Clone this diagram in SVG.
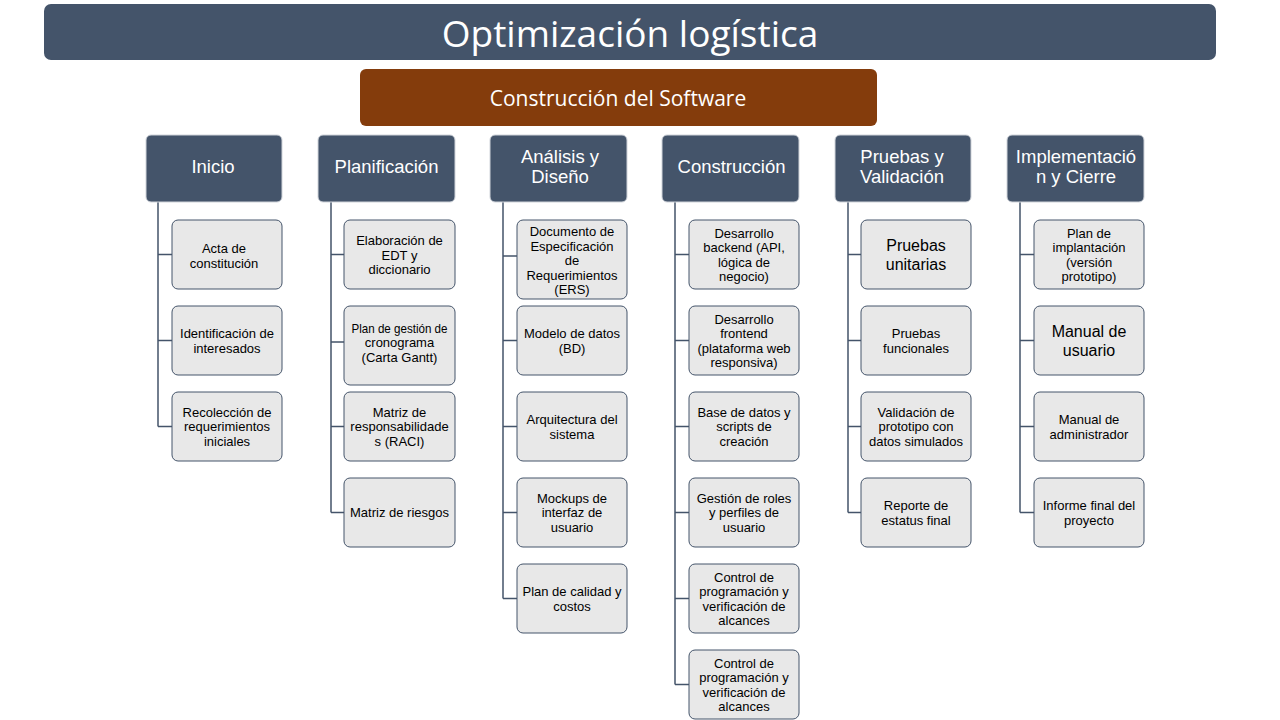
<svg xmlns="http://www.w3.org/2000/svg" width="1280" height="720" viewBox="0 0 1280 720">
<style>
.hdr{fill:#44546A;stroke:#D0D4DA;stroke-width:1}
.leaf{fill:#E8E8E8;stroke:#44546A;stroke-width:1}
.ht{font-family:"Liberation Sans",Arial,sans-serif;font-size:18.5px;fill:#FFFFFF;text-anchor:middle}
.lt{font-family:"Liberation Sans",Arial,sans-serif;font-size:13px;fill:#000000;text-anchor:middle}
.lb{font-family:"Liberation Sans",Arial,sans-serif;font-size:16px;fill:#000000;text-anchor:middle}
.con{fill:none;stroke:#44546A;stroke-width:1.5}
</style>
<rect width="1280" height="720" fill="#FFFFFF"/>
<g id="title">
<rect x="44" y="4" width="1172" height="56" rx="7" fill="#44546A"/>
<text x="630" y="47" font-family="'Open Sans','Noto Sans',sans-serif" font-size="37" fill="#FFFFFF" text-anchor="middle">Optimización logística</text>
</g>
<g id="root">
<rect x="360" y="69" width="517" height="57" rx="6" fill="#843C0C"/>
<text x="618" y="106" font-family="'Open Sans','Noto Sans',sans-serif" font-size="21" fill="#FFFFFF" text-anchor="middle">Construcción del Software</text>
</g>
<g id="connectors">
<path class="con" d="M158,202 V426.5 M158,254.5 H172 M158,340.5 H172 M158,426.5 H172"/>
<path class="con" d="M331,202 V512.5 M331,254.5 H344 M331,342 H344 M331,426.5 H344 M331,512.5 H344"/>
<path class="con" d="M503,202 V598.5 M503,256 H517 M503,340.5 H517 M503,426.5 H517 M503,512.5 H517 M503,598.5 H517"/>
<path class="con" d="M675,202 V684.5 M675,254.5 H689 M675,340.5 H689 M675,426.5 H689 M675,512.5 H689 M675,598.5 H689 M675,684.5 H689"/>
<path class="con" d="M848,202 V512.5 M848,254.5 H861 M848,340.5 H861 M848,426.5 H861 M848,512.5 H861"/>
<path class="con" d="M1020,202 V512.5 M1020,254.5 H1034 M1020,340.5 H1034 M1020,426.5 H1034 M1020,512.5 H1034"/>
</g>
<g id="h-inicio"><rect class="hdr" x="146" y="135" width="136" height="67" rx="5"/><text class="ht" x="213" y="173">Inicio</text></g>
<g id="h-planificacion"><rect class="hdr" x="318" y="135" width="137" height="67" rx="5"/><text class="ht" x="386.5" y="173">Planificación</text></g>
<g id="h-analisis"><rect class="hdr" x="490" y="135" width="137" height="67" rx="5"/><text class="ht" x="560" y="163">Análisis y</text><text class="ht" x="560" y="183">Diseño</text></g>
<g id="h-construccion"><rect class="hdr" x="662" y="135" width="137" height="67" rx="5"/><text class="ht" x="731.5" y="173">Construcción</text></g>
<g id="h-pruebas"><rect class="hdr" x="835" y="135" width="136" height="67" rx="5"/><text class="ht" x="902" y="163">Pruebas y</text><text class="ht" x="902" y="183">Validación</text></g>
<g id="h-implementacion"><rect class="hdr" x="1007" y="135" width="137" height="67" rx="5"/><text class="ht" x="1076" y="163">Implementació</text><text class="ht" x="1076" y="183">n y Cierre</text></g>

<g id="n-acta"><rect class="leaf" x="172" y="220" width="110" height="69" rx="6"/><text class="lt" x="224" y="253">Acta de</text><text class="lt" x="224" y="268">constitución</text></g>
<g id="n-identificacion"><rect class="leaf" x="172" y="306" width="110" height="69" rx="6"/><text class="lt" x="227" y="338">Identificación de</text><text class="lt" x="227" y="353">interesados</text></g>
<g id="n-recoleccion"><rect class="leaf" x="172" y="392" width="110" height="69" rx="6"/><text class="lt" x="227" y="416.5">Recolección de</text><text class="lt" x="227" y="431">requerimientos</text><text class="lt" x="227" y="445.5">iniciales</text></g>

<g id="n-edt"><rect class="leaf" x="344" y="220" width="111" height="69" rx="6"/><text class="lt" x="399.5" y="245">Elaboración de</text><text class="lt" x="399.5" y="259.5">EDT y</text><text class="lt" x="399.5" y="274">diccionario</text></g>
<g id="n-cronograma"><rect class="leaf" x="344" y="306" width="111" height="79" rx="6"/><text class="lt" x="399.5" y="332.5" textLength="96" lengthAdjust="spacingAndGlyphs">Plan de gestión de</text><text class="lt" x="399.5" y="347">cronograma</text><text class="lt" x="399.5" y="361.5">(Carta Gantt)</text></g>
<g id="n-raci"><rect class="leaf" x="344" y="392" width="111" height="69" rx="6"/><text class="lt" x="399.5" y="416.5">Matriz de</text><text class="lt" x="399.5" y="431">responsabilidade</text><text class="lt" x="399.5" y="445.5">s (RACI)</text></g>
<g id="n-riesgos"><rect class="leaf" x="344" y="478" width="111" height="69" rx="6"/><text class="lt" x="399.5" y="517">Matriz de riesgos</text></g>

<g id="n-ers"><rect class="leaf" x="517" y="220" width="110" height="79" rx="6"/><text class="lt" x="572" y="236">Documento de</text><text class="lt" x="572" y="250.5">Especificación</text><text class="lt" x="572" y="265">de</text><text class="lt" x="572" y="279.5">Requerimientos</text><text class="lt" x="572" y="294">(ERS)</text></g>
<g id="n-modelo"><rect class="leaf" x="517" y="306" width="110" height="69" rx="6"/><text class="lt" x="572" y="338">Modelo de datos</text><text class="lt" x="572" y="353">(BD)</text></g>
<g id="n-arquitectura"><rect class="leaf" x="517" y="392" width="110" height="69" rx="6"/><text class="lt" x="572" y="424">Arquitectura del</text><text class="lt" x="572" y="439">sistema</text></g>
<g id="n-mockups"><rect class="leaf" x="517" y="478" width="110" height="69" rx="6"/><text class="lt" x="572" y="502.5">Mockups de</text><text class="lt" x="572" y="517">interfaz de</text><text class="lt" x="572" y="531.5">usuario</text></g>
<g id="n-calidad"><rect class="leaf" x="517" y="564" width="110" height="69" rx="6"/><text class="lt" x="572" y="596">Plan de calidad y</text><text class="lt" x="572" y="611">costos</text></g>

<g id="n-backend"><rect class="leaf" x="689" y="220" width="110" height="69" rx="6"/><text class="lt" x="744" y="237.5">Desarrollo</text><text class="lt" x="744" y="252">backend (API,</text><text class="lt" x="744" y="266.5">lógica de</text><text class="lt" x="744" y="281">negocio)</text></g>
<g id="n-frontend"><rect class="leaf" x="689" y="306" width="110" height="69" rx="6"/><text class="lt" x="744" y="323.5">Desarrollo</text><text class="lt" x="744" y="338">frontend</text><text class="lt" x="744" y="352.5">(plataforma web</text><text class="lt" x="744" y="367">responsiva)</text></g>
<g id="n-basedatos"><rect class="leaf" x="689" y="392" width="110" height="69" rx="6"/><text class="lt" x="744" y="416.5">Base de datos y</text><text class="lt" x="744" y="431">scripts de</text><text class="lt" x="744" y="445.5">creación</text></g>
<g id="n-roles"><rect class="leaf" x="689" y="478" width="110" height="69" rx="6"/><text class="lt" x="744" y="502.5">Gestión de roles</text><text class="lt" x="744" y="517">y perfiles de</text><text class="lt" x="744" y="531.5">usuario</text></g>
<g id="n-control1"><rect class="leaf" x="689" y="564" width="110" height="69" rx="6"/><text class="lt" x="744" y="581.5">Control de</text><text class="lt" x="744" y="596">programación y</text><text class="lt" x="744" y="610.5">verificación de</text><text class="lt" x="744" y="625">alcances</text></g>
<g id="n-control2"><rect class="leaf" x="689" y="650" width="110" height="69" rx="6"/><text class="lt" x="744" y="667.5">Control de</text><text class="lt" x="744" y="682">programación y</text><text class="lt" x="744" y="696.5">verificación de</text><text class="lt" x="744" y="711">alcances</text></g>

<g id="n-unitarias"><rect class="leaf" x="861" y="220" width="110" height="69" rx="6"/><text class="lb" x="916" y="251">Pruebas</text><text class="lb" x="916" y="269.5">unitarias</text></g>
<g id="n-funcionales"><rect class="leaf" x="861" y="306" width="110" height="69" rx="6"/><text class="lt" x="916" y="338">Pruebas</text><text class="lt" x="916" y="353">funcionales</text></g>
<g id="n-validacion"><rect class="leaf" x="861" y="392" width="110" height="69" rx="6"/><text class="lt" x="916" y="416.5">Validación de</text><text class="lt" x="916" y="431">prototipo con</text><text class="lt" x="916" y="445.5">datos simulados</text></g>
<g id="n-reporte"><rect class="leaf" x="861" y="478" width="110" height="69" rx="6"/><text class="lt" x="916" y="510">Reporte de</text><text class="lt" x="916" y="525">estatus final</text></g>

<g id="n-implantacion"><rect class="leaf" x="1034" y="220" width="110" height="69" rx="6"/><text class="lt" x="1089" y="237.5">Plan de</text><text class="lt" x="1089" y="252">implantación</text><text class="lt" x="1089" y="266.5">(versión</text><text class="lt" x="1089" y="281">prototipo)</text></g>
<g id="n-manual-usuario"><rect class="leaf" x="1034" y="306" width="110" height="69" rx="6"/><text class="lb" x="1089" y="337">Manual de</text><text class="lb" x="1089" y="355.5">usuario</text></g>
<g id="n-manual-admin"><rect class="leaf" x="1034" y="392" width="110" height="69" rx="6"/><text class="lt" x="1089" y="424">Manual de</text><text class="lt" x="1089" y="439">administrador</text></g>
<g id="n-informe"><rect class="leaf" x="1034" y="478" width="110" height="69" rx="6"/><text class="lt" x="1089" y="510">Informe final del</text><text class="lt" x="1089" y="525">proyecto</text></g>
</svg>
